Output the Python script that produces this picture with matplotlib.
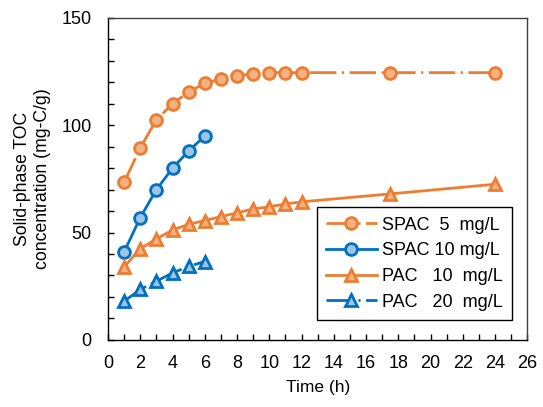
import matplotlib
matplotlib.use('Agg')
import matplotlib.pyplot as plt
from matplotlib.ticker import MultipleLocator

plt.rcParams['font.family'] = ['Liberation Sans', 'DejaVu Sans']
plt.rcParams['font.size'] = 12
plt.rcParams['lines.scale_dashes'] = False

t_long = [1, 2, 3, 4, 5, 6, 7, 8, 9, 10, 11, 12, 17.5, 24]
t_short = [1, 2, 3, 4, 5, 6]

spac5 = [73.5, 89.5, 102.5, 110, 115.5, 119.5, 121.5, 123, 124, 124.5, 124.5, 124.5, 124.5, 124.5]
spac10 = [41, 57, 70, 80, 88, 95]
pac10 = [34, 42.5, 47, 51.2, 53.8, 55.6, 57.4, 59.2, 61, 62, 63.3, 64.3, 68, 72.5]
pac20 = [18, 23.5, 27.3, 31.2, 34.2, 36.5]

orange = '#ED7D31'
orange_fill = '#F4B183'
blue = '#0070C0'
blue_fill = '#9DC3E6'
dashdot = (0, (19, 4, 1.5, 4))

fig = plt.figure(figsize=(5.43, 4.07), dpi=100)
ax = fig.add_axes([0.199, 0.165, 0.772, 0.791])

ax.plot(t_long, spac5, linestyle=dashdot, color=orange, lw=2, marker='o', ms=8.5,
        mfc=orange_fill, mec=orange, mew=2, label='SPAC  5  mg/L')
ax.plot(t_short, spac10, linestyle='-', color=blue, lw=2, marker='o', ms=8.5,
        mfc=blue_fill, mec=blue, mew=2, label='SPAC 10 mg/L')
ax.plot(t_long, pac10, linestyle='-', color=orange, lw=2, marker='^', ms=9,
        mfc=orange_fill, mec=orange, mew=2, label='PAC   10  mg/L')
ax.plot(t_short, pac20, linestyle=dashdot, color=blue, lw=2, marker='^', ms=9,
        mfc=blue_fill, mec=blue, mew=2, label='PAC   20  mg/L')

ax.set_xlim(0, 26)
ax.set_ylim(0, 150)
ax.xaxis.set_major_locator(MultipleLocator(2))
ax.xaxis.set_minor_locator(MultipleLocator(1))
ax.yaxis.set_major_locator(MultipleLocator(50))
ax.yaxis.set_minor_locator(MultipleLocator(10))
ax.tick_params(which='both', direction='in', length=4, width=1)
ax.tick_params(axis='x', which='major', pad=11, labelsize=13)
ax.tick_params(axis='y', which='major', pad=12, labelsize=13)

for s in ax.spines.values():
    s.set_linewidth(1)
ax.spines['top'].set_color('#404040')
ax.spines['right'].set_color('#404040')

ax.set_xlabel('Time (h)', fontsize=12.5, labelpad=6)
ax.set_ylabel('Solid-phase TOC\nconcentration (mg-C/g)', fontsize=12.7,
              labelpad=7, linespacing=1.25)

leg = ax.legend(loc='lower right', bbox_to_anchor=(0.985, 0.035), fontsize=13,
                handlelength=2.8, handletextpad=0.3, labelspacing=0.48,
                fancybox=False, edgecolor='black', framealpha=1, borderpad=0.5)
leg.get_frame().set_linewidth(1)

fig.savefig('out.png', dpi=100)
